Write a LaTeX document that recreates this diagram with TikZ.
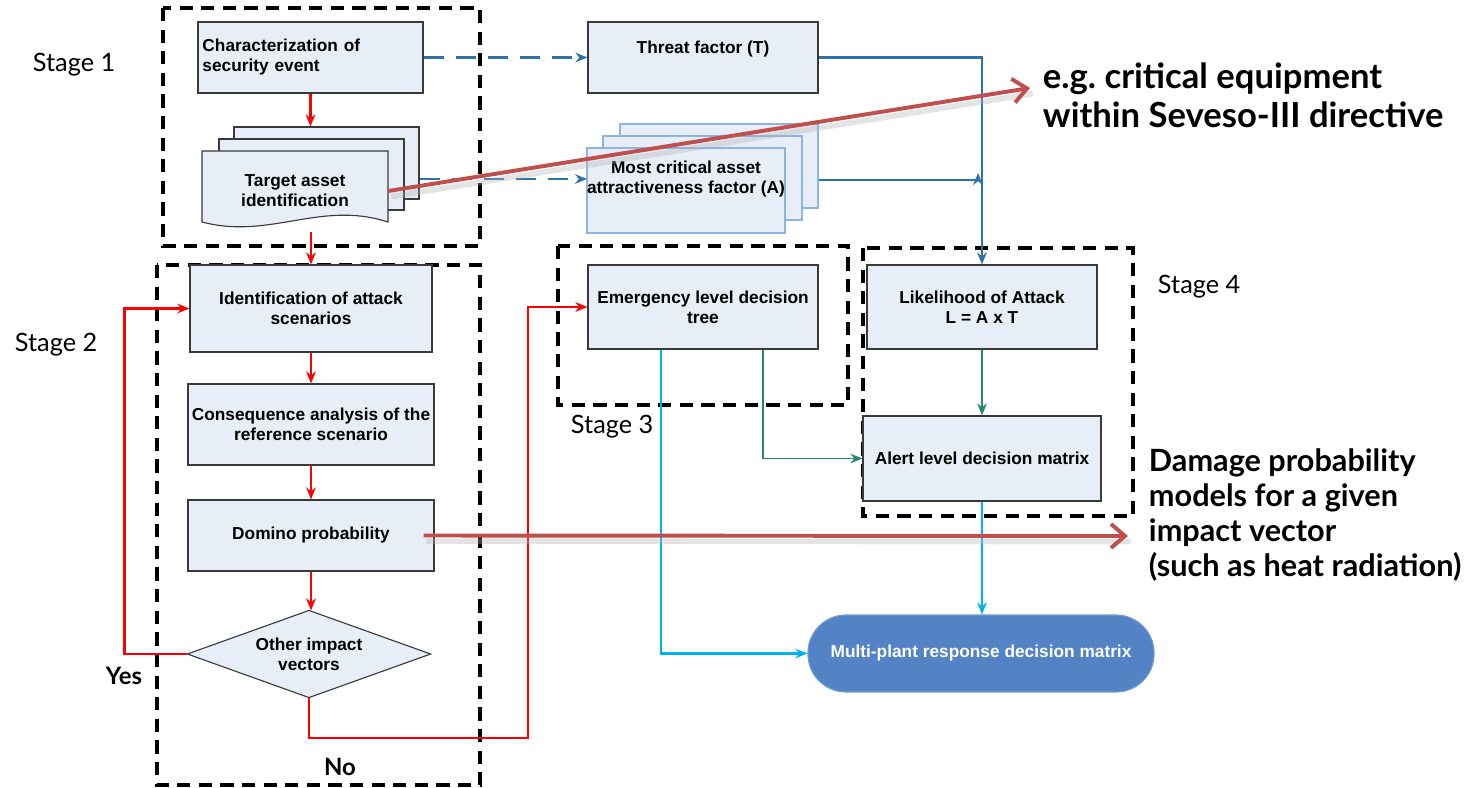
\documentclass[tikz,border=0pt]{standalone}
\usepackage{fontspec}
\setmainfont{Liberation Sans}
\newfontfamily\stagefont{Lato}
\usetikzlibrary{arrows.meta,positioning}
\definecolor{boxfill}{HTML}{E8EEF8}
\definecolor{boxline}{HTML}{3A3A3A}
\definecolor{flowred}{HTML}{FF0000}
\definecolor{flowblue}{HTML}{2E72AA}
\definecolor{flowgreen}{HTML}{26896C}
\definecolor{flowcyan}{HTML}{00B0F0}
\definecolor{notebrown}{HTML}{C0504D}
\definecolor{pageblue}{HTML}{8DB4E2}
\definecolor{termfill}{HTML}{5383C4}
\tikzset{
  procbox/.style={draw=boxline, fill=boxfill, line width=0.8pt, align=center, inner sep=0pt,
    font=\bfseries\fontsize{12.3}{14.2}\selectfont},
  pagebox/.style={draw=pageblue, fill=boxfill, line width=0.8pt},
  stagebox/.style={draw=black, line width=2.3pt, dash pattern=on 3.3mm off 2.1mm},
  stagelabel/.style={font=\stagefont\fontsize{18}{21}\selectfont, anchor=west},
  redflow/.style={draw=flowred, line width=1.6pt, -{Stealth[length=3mm,width=2.4mm]}},
  bluedash/.style={draw=flowblue, line width=1.6pt, dash pattern=on 5mm off 3mm, -{Stealth[length=3mm,width=2.4mm]}},
  blueflow/.style={draw=flowblue, line width=1.5pt, -{Stealth[length=3mm,width=2.4mm]}},
  greenflow/.style={draw=flowgreen, line width=1.2pt, -{Stealth[length=3mm,width=2.4mm]}},
  cyanflow/.style={draw=flowcyan, line width=1.5pt, -{Stealth[length=3mm,width=2.4mm]}},
  notearrow/.style={draw=notebrown, line width=2.8pt, -{Straight Barb[length=3.5mm,width=6mm,line width=2.8pt]}},
  noteshadow/.style={draw=black!30, opacity=0.35, line width=4pt, transform canvas={xshift=2pt,yshift=-4pt}},
  notetext/.style={font=\stagefont\bfseries, align=left, anchor=west},
}
\begin{document}
\begin{tikzpicture}[x=0.025cm, y=-0.025cm]
    \useasboundingbox (0,0) rectangle (1472,788);

    % Stage frames
    \draw[stagebox] (163,8) rectangle (480,246);
    \draw[stagebox] (157,265) rectangle (480,785);
    \draw[stagebox] (558,246) rectangle (848,405);
    \draw[stagebox] (863,248) rectangle (1133,516);
    \node[stagelabel] (st1) at (28,65) {Stage 1};
    \node[stagelabel] (st2) at (10,345) {Stage 2};
    \node[stagelabel] (st3) at (566,427) {Stage 3};
    \node[stagelabel] (st4) at (1153,287) {Stage 4};

    % Stage 1
    \node[procbox, minimum width=5.625cm, minimum height=1.775cm, text width=5.4cm, align=left] (char) at (310.5,57.5) {Characterization of\\security event};
    \node[pagebox, draw=boxline, minimum width=4.625cm, minimum height=1.8cm] (doc3) at (326.5,163) {};
    \node[pagebox, draw=boxline, minimum width=4.625cm, minimum height=1.775cm] (doc2) at (311.5,174.5) {};
    \draw[draw=boxline, fill=boxfill, line width=0.8pt] (202,151) -- (388,151) -- (388,222)
        .. controls (320,200) and (270,240) .. (202,222) -- cycle;
    \node[align=center, inner sep=0pt, minimum width=4.65cm, font=\bfseries\fontsize{12.3}{14.2}\selectfont] (doc) at (295,191) {Target asset\\identification};
    \draw[redflow] (char.south) -- (char.south |- doc3.north);

    % threat and attractiveness
    \node[procbox, minimum width=5.75cm, minimum height=1.775cm] (threat) at (703,57.5) {Threat factor (T)\\[1pt]\mbox{}};
    \node[pagebox, minimum width=4.95cm, minimum height=2.1cm] (mca3) at (719,166) {};
    \node[pagebox, minimum width=4.975cm, minimum height=2.1cm] (mca2) at (702.5,178) {};
    \node[pagebox, procbox, draw=pageblue, minimum width=4.95cm, minimum height=2.125cm] (mca) at (686,190.5) {Most critical asset\\attractiveness factor (A)\\[5pt]\mbox{}};
    \coordinate (mcain) at (587,179);
    \coordinate (mcajoin) at (978,180);
    \draw[bluedash] (char.east) -- (threat.west);
    \draw[bluedash] (doc3.east |- mcain) -- (mcain);

    % Stage 2
    \node[procbox, minimum width=6.05cm, minimum height=2.175cm] (ident) at (311,308.5) {Identification of attack\\scenarios};
    \node[procbox, minimum width=6.15cm, minimum height=2.025cm] (conseq) at (311,424.5) {Consequence analysis of the\\reference scenario};
    \node[procbox, minimum width=6.15cm, minimum height=1.775cm] (domino) at (311,535.5) {Domino probability};
    \node[procbox, draw=none, fill=none, minimum width=6.05cm, minimum height=2.15cm] (other) at (309,654) {};
    \draw[draw=boxline, fill=boxfill, line width=0.8pt] (other.north) -- (other.east) -- (other.south) -- (other.west) -- cycle;
    \node[procbox, draw=none, fill=none] at (other) {Other impact\\vectors};
    \coordinate (s1out) at (311,232);
    \coordinate (nojoin) at (528,738);
    \draw[redflow] (s1out) -- (ident.north);
    \draw[redflow] (ident.south) -- (conseq.north);
    \draw[redflow] (conseq.south) -- (domino.north);
    \draw[redflow] (domino.south) -- (domino.south |- other.north);
    \draw[redflow] (other.west) -- ++(-63,0) |- (ident.west);
    \node[font=\stagefont\bfseries\fontsize{17}{20}\selectfont] (yes) at (124,676) {Yes};

    % Stage 3 and 4
    \node[procbox, minimum width=5.75cm, minimum height=2.1cm] (emerg) at (703,307) {Emergency level decision\\tree};
    \node[procbox, minimum width=5.75cm, minimum height=2.1cm] (likeli) at (982,307) {Likelihood of Attack\\L = A x T};
    \node[procbox, minimum width=5.95cm, minimum height=2.125cm] (alert) at (982,458.5) {Alert level decision matrix};
    \node[procbox, fill=termfill, draw=termfill!80!white, text=white, rounded corners=0.95cm,
          minimum width=8.65cm, minimum height=1.925cm] (multi) at (981,653.5) {Multi-plant response decision matrix};
    \draw[redflow] (other.south) |- (nojoin) |- (emerg.west);
    \node[font=\stagefont\bfseries\fontsize{17}{20}\selectfont] (no) at (340,767) {No};
    \draw[blueflow] (threat.east) -| (likeli.north);
    \draw[blueflow] (mca3.east |- mcajoin) -- (mcajoin) -- ++(0,-7);
    \draw[greenflow] (likeli.south) -- (alert.north);
    \draw[greenflow] ([xshift=1.5cm]emerg.south) |- (alert.west);
    \draw[cyanflow] ([xshift=-1.05cm]emerg.south) |- (multi.west);
    \draw[cyanflow] (alert.south) -- (alert.south |- multi.north);

    % notes
    \node[notetext, font=\stagefont\bfseries\fontsize{24.6}{27.5}\selectfont] (eg) at (1038,95) {e.g.\ critical equipment\\within Seveso-III directive};
    \node[notetext, font=\stagefont\bfseries\fontsize{21.8}{24.8}\selectfont] (dmg) at (1144,515) {Damage probability\\models for a given\\impact vector\\(such as heat radiation)};
    \coordinate (egin) at (1030,88);
    \coordinate (dmgin) at (1128,536);
    \draw[noteshadow] (doc.east) -- (egin);
    \draw[notearrow] (doc.east) -- (egin);
    \draw[noteshadow] ([xshift=-0.275cm]domino.east) -- (dmgin);
    \draw[notearrow] ([xshift=-0.275cm]domino.east) -- (dmgin);
\end{tikzpicture}
\end{document}
